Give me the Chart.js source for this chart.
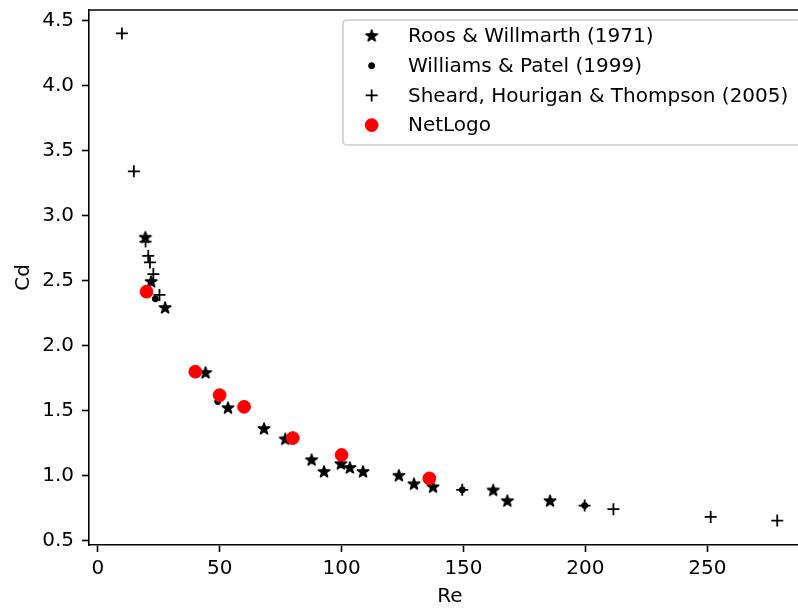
<!DOCTYPE html>
<html>
<head>
<meta charset="utf-8">
<script src="https://cdn.jsdelivr.net/npm/chart.js@4.4.1/dist/chart.umd.min.js"></script>
<style>
  html, body { margin: 0; padding: 0; background: #fff; overflow: hidden; }
  canvas { display: block; }
</style>
</head>
<body>
<canvas id="chart" width="798" height="608"></canvas>
<script>
/* ─── Data ───────────────────────────────────────────────── */
const rwRe  = [19.5, 21.9, 27.6, 44.2, 53.4, 68.2, 76.9, 87.7, 92.8, 99.7, 103.4, 108.8, 123.5, 129.7, 137.5, 162.2, 168.0, 185.5];
const rwCd  = [2.83, 2.49, 2.29, 1.79, 1.52, 1.36, 1.28, 1.12, 1.03, 1.09, 1.06, 1.03, 1.00, 0.935, 0.912, 0.887, 0.805, 0.805];

const wpRe  = [23.6, 49.2, 99.8, 149.5, 199.7];
const wpCd  = [2.36, 1.57, 1.085, 0.892, 0.771];

const shtRe = [9.9, 14.8, 19.6, 20.7, 21.4, 22.8, 25.3, 149.5, 199.7, 211.5, 251.4, 278.7];
const shtCd = [4.40, 3.34, 2.80, 2.69, 2.64, 2.55, 2.39, 0.892, 0.771, 0.743, 0.684, 0.656];

const nlRe  = [20, 40, 50, 60, 80, 100, 136];
const nlCd  = [2.415, 1.80, 1.62, 1.53, 1.29, 1.16, 0.98];

const X_TICKS = [0, 50, 100, 150, 200, 250];
const Y_TICKS = [0.5, 1.0, 1.5, 2.0, 2.5, 3.0, 3.5, 4.0, 4.5];

// the original axes ran to Re ≈ 292 but the picture is cut at ≈ 287
const X_MIN = -3.6, X_VISIBLE_MAX = 286.8, X_FULL_MAX = 292.4;

/* ─── Helpers ─────────────────────────────────────────────── */
const pts = (xs, ys) => xs.map((x, i) => ({ x, y: ys[i] }));

// filled five-point star, like matplotlib's '*'
function makeStar() {
  const c = document.createElement('canvas');
  c.width = c.height = 20;
  const g = c.getContext('2d');
  g.beginPath();
  for (let k = 0; k < 10; k++) {
    const r = k % 2 ? 6 * 0.382 : 6;
    const a = -Math.PI / 2 + k * Math.PI / 5;
    g.lineTo(10 + r * Math.cos(a), 10 + r * Math.sin(a));
  }
  g.closePath();
  g.fillStyle = '#000';
  g.fill();
  g.lineJoin = 'round';
  g.lineWidth = 1.6;
  g.strokeStyle = '#000';
  g.stroke();
  return c;
}
const STAR = makeStar();

const FONT = "'DejaVu Sans', sans-serif";
Chart.defaults.font = { family: FONT, size: 20 };
Chart.defaults.color = '#000';

/* ─── Plugins ─────────────────────────────────────────────── */
// top spine + x-axis title centred on the full (uncut) axes
const frame = {
  id: 'frame',
  afterDraw(chart) {
    const { ctx, chartArea: a } = chart;
    const fullRight = chart.scales.x.getPixelForValue(X_FULL_MAX);
    ctx.save();
    ctx.strokeStyle = '#000';
    ctx.lineWidth = 1.6;
    ctx.beginPath();
    ctx.moveTo(a.left, a.top);
    ctx.lineTo(fullRight, a.top);
    ctx.stroke();
    ctx.fillStyle = '#000';
    ctx.font = '20px ' + FONT;
    ctx.textAlign = 'center';
    ctx.textBaseline = 'middle';
    ctx.fillText('Re', (a.left + fullRight) / 2, 597);
    ctx.restore();
  },
};

const legendBox = {
  id: 'legendBox',
  afterDraw(chart) {
    const { ctx } = chart;
    const a = chart.chartArea;
    const fullRight = chart.scales.x.getPixelForValue(X_FULL_MAX);
    const left = fullRight - 467.7, top = a.top + 10, right = fullRight - 10, bottom = a.top + 135;
    const r = 4;
    ctx.save();
    ctx.beginPath();
    ctx.moveTo(left + r, top);
    ctx.arcTo(right, top, right, bottom, r);
    ctx.arcTo(right, bottom, left, bottom, r);
    ctx.arcTo(left, bottom, left, top, r);
    ctx.arcTo(left, top, right, top, r);
    ctx.closePath();
    ctx.fillStyle = 'rgba(255,255,255,0.8)';
    ctx.fill();
    ctx.strokeStyle = '#cccccc';
    ctx.lineWidth = 1.6;
    ctx.stroke();

    chart.data.datasets.forEach((ds, i) => {
      const y = top + 16 + i * 29.7;
      ctx.fillStyle = ds.backgroundColor;
      ctx.strokeStyle = ds.borderColor;
      ctx.lineWidth = ds.borderWidth;
      Chart.helpers.drawPoint(ctx, {
        pointStyle: ds.pointStyle, rotation: 0,
        radius: ds.pointRadius, borderWidth: ds.borderWidth,
      }, left + 28.7, y);
      ctx.fillStyle = '#000';
      ctx.font = '20px ' + FONT;
      ctx.textBaseline = 'middle';
      ctx.textAlign = 'left';
      ctx.fillText(ds.label, left + 65, y + 1);
    });
    ctx.restore();
  },
};

/* ─── Axis styling ────────────────────────────────────────── */
const axisGrid   = { drawOnChartArea: false, tickLength: 7, tickWidth: 1.6, tickColor: '#000' };
const axisBorder = { color: '#000', width: 1.6 };

new Chart(document.getElementById('chart'), {
  type: 'scatter',
  data: {
    datasets: [
      {
        label: 'Roos & Willmarth (1971)',
        data: pts(rwRe, rwCd),
        pointStyle: STAR, pointRadius: 6, borderWidth: 0,
        backgroundColor: '#000', borderColor: '#000',
        order: 3,
      },
      {
        label: 'Williams & Patel (1999)',
        data: pts(wpRe, wpCd),
        pointStyle: 'circle', pointRadius: 3, borderWidth: 1,
        backgroundColor: '#000', borderColor: '#000',
        order: 2,
      },
      {
        label: 'Sheard, Hourigan & Thompson (2005)',
        data: pts(shtRe, shtCd),
        pointStyle: 'cross', pointRadius: 6, borderWidth: 1.8,
        backgroundColor: '#000', borderColor: '#000',
        order: 1,
      },
      {
        label: 'NetLogo',
        data: pts(nlRe, nlCd),
        pointStyle: 'circle', pointRadius: 6.4, borderWidth: 1,
        backgroundColor: '#ff0000', borderColor: '#ff0000',
        order: 0,
      },
    ],
  },
  options: {
    responsive: false,
    animation: false,
    events: [],
    layout: { autoPadding: false, padding: { top: 10, right: 1, bottom: 0, left: 0 } },
    plugins: { legend: { display: false }, tooltip: { enabled: false } },
    scales: {
      x: {
        type: 'linear',
        min: X_MIN, max: X_VISIBLE_MAX,
        afterBuildTicks: s => { s.ticks = X_TICKS.map(v => ({ value: v })); },
        afterFit: s => { s.height = 63; s.paddingLeft = 0; s.paddingRight = 0; },
        ticks: { color: '#000', padding: 7, maxRotation: 0, autoSkip: false,
                 font: { size: 20, lineHeight: 1 }, callback: v => String(v) },
        grid: axisGrid,
        border: axisBorder,
        title: { display: false },
      },
      y: {
        type: 'linear',
        min: 0.468, max: 4.58,
        afterBuildTicks: s => { s.ticks = Y_TICKS.map(v => ({ value: v })); },
        afterFit: s => { s.width = 89; s.paddingTop = 0; s.paddingBottom = 0; },
        ticks: { color: '#000', padding: 8, autoSkip: false,
                 font: { size: 20, lineHeight: 1 }, callback: v => v.toFixed(1) },
        grid: axisGrid,
        border: axisBorder,
        title: { display: true, text: 'Cd', color: '#000',
                 font: { size: 20, lineHeight: 1 }, padding: { top: 14, bottom: 0 } },
      },
    },
  },
  plugins: [frame, legendBox],
});
</script>
</body>
</html>
